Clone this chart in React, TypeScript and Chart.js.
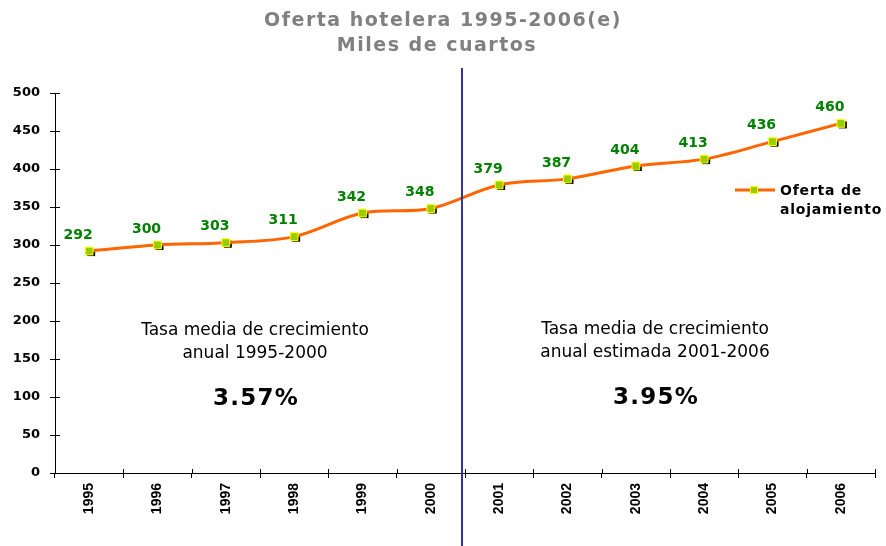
import React, { useEffect, useRef } from "react";
import { Chart, registerables } from "chart.js";

Chart.register(...registerables);

const years = ["1995", "1996", "1997", "1998", "1999", "2000", "2001", "2002", "2003", "2004", "2005", "2006"];
const oferta = [292, 300, 303, 311, 342, 348, 379, 387, 404, 413, 436, 460];
const yTicks = [0, 50, 100, 150, 200, 250, 300, 350, 400, 450, 500];
const titleLines = ["Oferta hotelera 1995-2006(e)", "Miles de cuartos"];
const seriesName = ["Oferta de", "alojamiento"];
const leftNote = ["Tasa media de crecimiento", "anual 1995-2000", "3.57%"];
const rightNote = ["Tasa media de crecimiento", "anual estimada 2001-2006", "3.95%"];
const dividerAt = 5.46;

const FONT = "'DejaVu Sans', Verdana, sans-serif";

const decorPlugin = {
  id: "decor",
  beforeDatasetsDraw(chart: any) {
    const ctx = chart.ctx;
    const meta = chart.getDatasetMeta(0);
    ctx.save();
    ctx.fillStyle = "#000";
    meta.data.forEach((p: any) => {
      ctx.fillRect(p.x - 2, p.y - 2, 8, 7);
    });
    ctx.restore();
  },
  afterDraw(chart: any) {
    const ctx = chart.ctx;
    const xs = chart.scales.x;
    const ys = chart.scales.y;
    const ca = chart.chartArea;
    ctx.save();
    // inner tick parts
    ctx.strokeStyle = "#000";
    ctx.lineWidth = 1;
    yTicks.forEach((v) => {
      const y = Math.round(ys.getPixelForValue(v)) + 0.5;
      ctx.beginPath();
      ctx.moveTo(ca.left, y);
      ctx.lineTo(ca.left + 5, y);
      ctx.stroke();
    });
    for (let i = 0; i <= years.length; i++) {
      const x = Math.round(xs.getPixelForValue(i - 0.5)) + 0.5;
      ctx.beginPath();
      ctx.moveTo(x, ca.bottom - 4);
      ctx.lineTo(x, ca.bottom);
      ctx.stroke();
    }
    // title
    ctx.fillStyle = "#808080";
    ctx.font = `bold 19px ${FONT}`;
    ctx.textAlign = "center";
    ctx.textBaseline = "middle";
    (ctx as any).letterSpacing = "1.5px";
    ctx.fillText(titleLines[0], 443, 21);
    ctx.fillText(titleLines[1], 437, 46);
    (ctx as any).letterSpacing = "0px";
    // divider
    const dx = Math.round(xs.getPixelForValue(dividerAt));
    ctx.strokeStyle = "#333399";
    ctx.lineWidth = 2;
    ctx.beginPath();
    ctx.moveTo(dx, 68);
    ctx.lineTo(dx, chart.height);
    ctx.stroke();
    // data labels
    const meta = chart.getDatasetMeta(0);
    ctx.fillStyle = "#008000";
    ctx.font = `bold 14px ${FONT}`;
    meta.data.forEach((p: any, i: number) => {
      ctx.fillText(String(oferta[i]), p.x - 11, p.y - 16);
    });
    // notes
    ctx.fillStyle = "#000";
    const drawNote = (lines: string[], cx: number, y0: number) => {
      ctx.font = `17px ${FONT}`;
      (ctx as any).letterSpacing = "0px";
      ctx.fillText(lines[0], cx, y0);
      ctx.fillText(lines[1], cx, y0 + 23);
      ctx.font = `bold 23px ${FONT}`;
      (ctx as any).letterSpacing = "1.2px";
      ctx.fillText(lines[2], cx + 1, y0 + 68);
      (ctx as any).letterSpacing = "0px";
    };
    drawNote(leftNote, 255, 331);
    drawNote(rightNote, 655, 330);
    // legend
    ctx.strokeStyle = "#FF6600";
    ctx.lineWidth = 3;
    ctx.beginPath();
    ctx.moveTo(735, 190);
    ctx.lineTo(775, 190);
    ctx.stroke();
    ctx.fillStyle = "#99CC00";
    ctx.strokeStyle = "#FFFF00";
    ctx.lineWidth = 1;
    ctx.fillRect(751, 187, 7, 7);
    ctx.strokeRect(750.5, 186.5, 7, 7);
    ctx.fillStyle = "#000";
    ctx.font = `bold 14px ${FONT}`;
    (ctx as any).letterSpacing = "0.8px";
    ctx.textAlign = "left";
    ctx.fillText(seriesName[0], 780, 191);
    ctx.fillText(seriesName[1], 780, 210);
    ctx.restore();
  },
};

export default function App() {
  const ref = useRef<HTMLCanvasElement>(null);
  useEffect(() => {
    document.body.style.margin = "0";
    const chart = new Chart(ref.current!, {
      type: "line",
      data: {
        labels: years,
        datasets: [
          {
            label: "Oferta de alojamiento",
            data: oferta,
            borderColor: "#FF6600",
            borderWidth: 3,
            tension: 0.35,
            pointStyle: "rect",
            pointRadius: 5.5,
            pointBackgroundColor: "#99CC00",
            pointBorderColor: "#FFFF00",
            pointBorderWidth: 1,
          },
        ],
      },
      options: {
        animation: false,
        responsive: false,
        devicePixelRatio: 1,
        layout: { padding: { top: 93, right: 11, left: 0, bottom: 0 } },
        plugins: {
          legend: { display: false },
          title: { display: false },
          tooltip: { enabled: false },
        },
        scales: {
          x: {
            offset: true,
            grid: { offset: true, drawOnChartArea: false, color: "#000", tickLength: 5, tickWidth: 1 },
            border: { color: "#000", width: 1 },
            ticks: {
              color: "#000",
              font: { family: "'Liberation Sans', Arial, sans-serif", size: 14, weight: "bold" },
              minRotation: 90,
              maxRotation: 90,
              padding: 5,
            },
            afterFit: (s: any) => {
              s.height = 73;
            },
          },
          y: {
            min: 0,
            max: 500,
            afterBuildTicks: (s: any) => {
              s.ticks = yTicks.map((v) => ({ value: v }));
            },
            grid: { drawOnChartArea: false, color: "#000", tickLength: 5, tickWidth: 1 },
            border: { color: "#000", width: 1 },
            ticks: {
              color: "#000",
              font: { family: FONT, size: 13, weight: "bold" },
              padding: 10,
            },
            afterFit: (s: any) => {
              s.width = 55;
            },
          },
        },
      },
      plugins: [decorPlugin],
    });
    return () => chart.destroy();
  }, []);
  return (
    <div style={{ width: 886, height: 546 }}>
      <canvas ref={ref} width={886} height={546} style={{ display: "block" }} />
    </div>
  );
}
